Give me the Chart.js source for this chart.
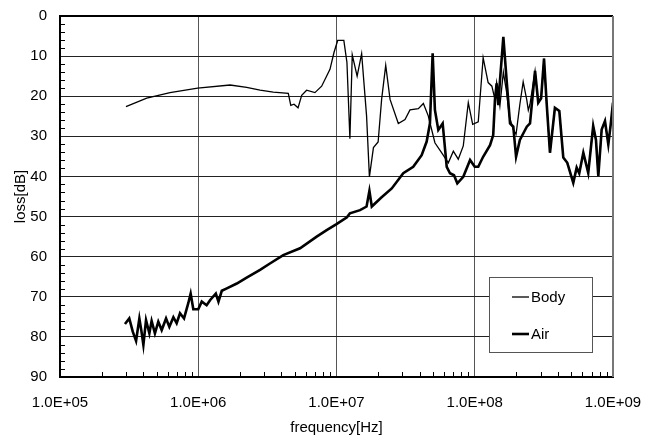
<!DOCTYPE html>
<html>
<head>
<meta charset="utf-8">
<script src="https://cdn.jsdelivr.net/npm/chart.js@4.4.1/dist/chart.umd.min.js"></script>
<style>
  html, body { margin: 0; padding: 0; background: #fff; }
</style>
</head>
<body>
<canvas id="lossChart" width="646" height="444"></canvas>
<script>
// values (frequency in Hz, loss in dB)
const tailFreq = [2.73e8, 2.88e8, 3.02e8, 3.17e8, 3.31e8, 3.50e8, 3.80e8, 4.09e8, 4.37e8, 4.67e8, 5.16e8, 5.46e8,
  5.70e8, 6.10e8, 6.62e8, 7.19e8, 7.53e8, 7.83e8, 8.28e8, 8.75e8, 9.25e8, 9.60e8, 1.0e9];
const tailLoss = [13.7, 21.6, 20.5, 10.6, 21.6, 34.1, 22.9, 23.7, 35.3, 36.6, 41.6, 37.8,
  39.2, 34.1, 39.1, 27.4, 30.9, 39.9, 28.3, 26.2, 32.0, 27.4, 21.6];

const bodyFreq = [3.0e5, 4.24e5, 6.25e5, 9.9e5, 1.70e6, 2.24e6, 2.80e6, 3.49e6, 4.48e6, 4.67e6, 4.93e6, 5.27e6,
  5.60e6, 6.08e6, 6.98e6, 7.81e6, 8.97e6, 9.59e6, 1.02e7, 1.13e7, 1.19e7, 1.25e7, 1.30e7, 1.41e7,
  1.52e7, 1.65e7, 1.73e7, 1.85e7, 2.00e7, 2.12e7, 2.27e7, 2.44e7, 2.80e7, 3.13e7, 3.40e7, 3.91e7,
  4.25e7, 4.61e7, 5.15e7, 5.77e7, 6.44e7, 7.00e7, 7.60e7, 8.26e7, 8.98e7, 9.66e7, 1.06e8, 1.15e8,
  1.25e8, 1.33e8, 1.40e8, 1.44e8, 1.52e8, 1.61e8, 1.70e8, 1.78e8, 1.90e8, 1.99e8, 2.12e8, 2.24e8,
  2.38e8, 2.44e8, 2.51e8].concat(tailFreq);
const bodyLoss = [22.6, 20.5, 19.1, 18.0, 17.2, 17.8, 18.5, 19.0, 19.3, 22.3, 22.0, 22.9,
  19.8, 18.5, 19.1, 17.5, 13.3, 9.1, 6.1, 6.1, 11.6, 30.6, 9.7, 15.0,
  9.4, 24.9, 40.1, 32.8, 31.4, 20.8, 12.3, 20.8, 26.8, 25.8, 23.4, 23.1,
  21.8, 24.9, 31.6, 34.1, 36.6, 33.7, 35.7, 32.4, 21.6, 27.0, 26.4, 10.4,
  16.6, 17.5, 20.8, 16.6, 22.4, 14.0, 19.0, 25.1, 28.3, 29.5, 22.0, 16.4,
  21.0, 23.5, 22.0].concat(tailLoss);

const airFreq = [2.95e5, 3.17e5, 3.36e5, 3.55e5, 3.75e5, 3.88e5, 4.01e5, 4.19e5, 4.43e5, 4.60e5, 4.86e5, 5.14e5,
  5.44e5, 5.85e5, 6.18e5, 6.61e5, 6.98e5, 7.38e5, 7.89e5, 8.47e5, 8.81e5, 9.21e5, 1.00e6, 1.06e6,
  1.15e6, 1.22e6, 1.34e6, 1.40e6, 1.48e6, 1.61e6, 1.90e6, 2.24e6, 2.80e6, 3.30e6, 4.12e6, 5.45e6,
  7.19e6, 8.49e6, 1.00e7, 1.19e7, 1.25e7, 1.48e7, 1.65e7, 1.73e7, 1.80e7, 2.12e7, 2.51e7, 3.04e7,
  3.59e7, 4.13e7, 4.49e7, 4.74e7, 4.96e7, 5.15e7, 5.45e7, 5.86e7, 6.27e7, 6.62e7, 7.08e7, 7.48e7,
  8.26e7, 9.25e7, 1.00e8, 1.06e8, 1.15e8, 1.29e8, 1.36e8, 1.40e8, 1.44e8, 1.48e8, 1.52e8, 1.61e8,
  1.70e8, 1.80e8, 1.90e8, 1.99e8, 2.12e8, 2.38e8, 2.51e8].concat(tailFreq);
const airLoss = [76.8, 75.4, 78.7, 81.0, 75.4, 78.5, 82.0, 75.8, 79.1, 76.0, 79.1, 76.2,
  78.3, 75.4, 77.5, 75.1, 76.6, 74.1, 75.4, 71.6, 69.2, 73.1, 73.1, 71.2,
  72.1, 70.8, 69.2, 71.2, 68.5, 67.9, 66.7, 65.2, 63.3, 61.7, 59.6, 57.9,
  55.0, 53.4, 51.9, 50.2, 49.2, 48.4, 47.5, 43.6, 47.5, 45.2, 43.0, 39.2,
  37.6, 34.7, 31.3, 26.8, 9.3, 23.4, 28.4, 26.8, 37.6, 39.2, 39.7, 41.7,
  40.1, 35.9, 37.6, 37.6, 35.1, 32.2, 29.7, 20.9, 16.8, 22.2, 16.4, 5.2,
  16.0, 26.8, 27.6, 35.1, 30.9, 27.6, 26.8].concat(tailLoss);

const xTicks = [1e5, 1e6, 1e7, 1e8, 1e9];
const yMin = 0, yMax = 90, yStep = 10;

const FONT = { family: "'Liberation Sans', Arial, sans-serif", size: 15 };

const toPoints = (xs, ys) => xs.map((x, i) => ({ x: x, y: ys[i] }));

// frame, minor ticks and the boxed legend inside the plot
const extras = {
  id: 'extras',
  afterDraw(chart) {
    const ctx = chart.ctx;
    const a = chart.chartArea;
    const xs = chart.scales.x, ys = chart.scales.y;
    ctx.save();

    ctx.strokeStyle = '#000';
    ctx.lineWidth = 1;
    ctx.beginPath();
    for (let d = 5; d < 9; d++) {
      for (let m = 2; m <= 9; m++) {
        const px = Math.round(xs.getPixelForValue(m * Math.pow(10, d))) + 0.5;
        ctx.moveTo(px, a.bottom);
        ctx.lineTo(px, a.bottom - 5);
      }
    }
    for (let v = yMin + 2; v < yMax; v += 2) {
      if (v % yStep === 0) continue;
      const py = Math.round(ys.getPixelForValue(v)) + 0.5;
      ctx.moveTo(a.left, py);
      ctx.lineTo(a.left + 5, py);
    }
    ctx.stroke();

    // top and right edges of the frame
    ctx.lineWidth = 2;
    ctx.strokeStyle = '#000';
    ctx.beginPath();
    ctx.moveTo(a.left, a.top);
    ctx.lineTo(a.right, a.top);
    ctx.stroke();
    ctx.strokeStyle = '#777';
    ctx.beginPath();
    ctx.moveTo(a.right, a.top);
    ctx.lineTo(a.right, a.bottom);
    ctx.stroke();

    // legend box
    const bx = a.right - 124, by = a.top + 261, bw = 103, bh = 75;
    ctx.fillStyle = '#fff';
    ctx.fillRect(bx, by, bw, bh);
    ctx.strokeStyle = '#555';
    ctx.lineWidth = 1;
    ctx.strokeRect(bx + 0.5, by + 0.5, bw, bh);
    ctx.font = FONT.size + 'px ' + FONT.family;
    ctx.textBaseline = 'middle';
    ctx.fillStyle = '#000';
    chart.data.datasets.forEach((ds, i) => {
      const ly = by + 20 + i * 37;
      ctx.strokeStyle = ds.borderColor;
      ctx.lineWidth = ds.borderWidth;
      ctx.beginPath();
      ctx.moveTo(bx + 23, ly);
      ctx.lineTo(bx + 40, ly);
      ctx.stroke();
      ctx.fillText(ds.label, bx + 42, ly + 1);
    });
    ctx.restore();
  }
};

new Chart(document.getElementById('lossChart').getContext('2d'), {
  type: 'line',
  data: {
    datasets: [
      {
        label: 'Body',
        data: toPoints(bodyFreq, bodyLoss),
        borderColor: '#000',
        borderWidth: 1.3,
        pointRadius: 0,
        tension: 0,
        fill: false
      },
      {
        label: 'Air',
        data: toPoints(airFreq, airLoss),
        borderColor: '#000',
        borderWidth: 2.6,
        pointRadius: 0,
        tension: 0,
        fill: false
      }
    ]
  },
  options: {
    responsive: false,
    animation: false,
    devicePixelRatio: 1,
    layout: { padding: { top: 16, right: 33, left: 0, bottom: 0 } },
    plugins: {
      legend: { display: false },
      tooltip: { enabled: false }
    },
    scales: {
      x: {
        type: 'logarithmic',
        min: xTicks[0],
        max: xTicks[xTicks.length - 1],
        afterBuildTicks: s => { s.ticks = xTicks.map(v => ({ value: v })); },
        afterFit: s => { s.height = 67; s.paddingLeft = 0; s.paddingRight = 0; },
        grid: { color: '#555', lineWidth: 1, drawTicks: false },
        border: { color: '#000', width: 2 },
        ticks: {
          color: '#000',
          font: FONT,
          padding: 17,
          maxRotation: 0,
          autoSkip: false,
          callback: v => '1.0E+' + String(Math.round(Math.log10(v))).padStart(2, '0')
        },
        title: { display: true, text: 'frequency[Hz]', color: '#000', font: FONT, padding: { top: 0, bottom: 7 } }
      },
      y: {
        min: yMin,
        max: yMax,
        reverse: true,
        afterFit: s => { s.width = 60; s.paddingTop = 0; s.paddingBottom = 0; },
        grid: { color: '#222', lineWidth: 1, drawTicks: false },
        border: { color: '#000', width: 2 },
        ticks: { stepSize: yStep, color: '#000', font: FONT, padding: 13 },
        title: { display: true, text: 'loss[dB]', color: '#000', font: FONT, padding: { top: 12, bottom: 0 } }
      }
    }
  },
  plugins: [extras]
});
</script>
</body>
</html>
